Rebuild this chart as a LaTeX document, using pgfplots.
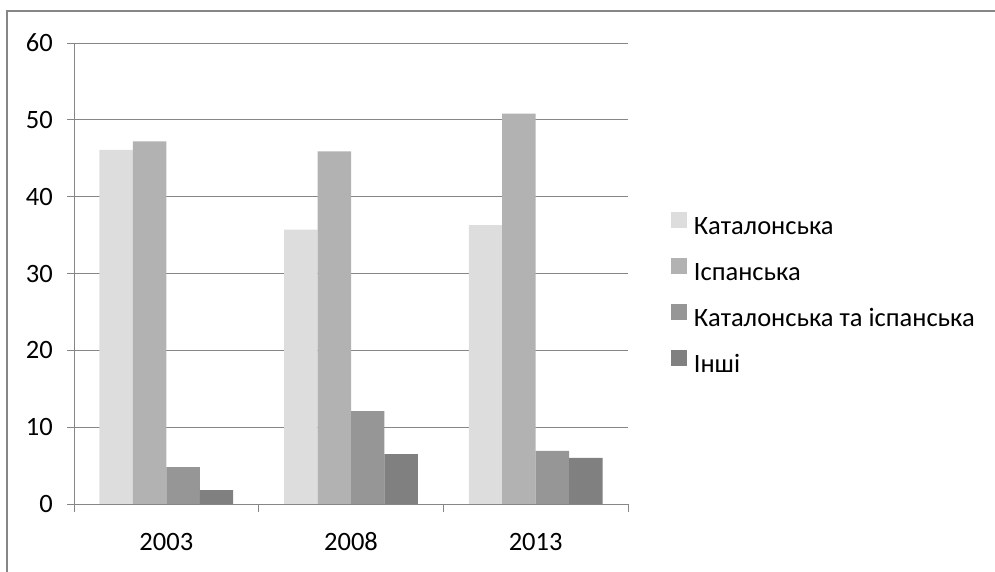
\documentclass[border=0pt]{standalone}
\usepackage{pgfplots}
\pgfplotsset{compat=1.18}
\usepackage{fontspec}
\setmainfont{Carlito}
\definecolor{gridgray}{HTML}{868686}
\definecolor{catal}{HTML}{DDDDDD}
\definecolor{span}{HTML}{B2B2B2}
\definecolor{both}{HTML}{969696}
\definecolor{other}{HTML}{808080}
\begin{document}
\begin{tikzpicture}
\useasboundingbox (0,0) rectangle (995pt,572pt);
% outer chart frame (only left and top edges are visible)
\draw[gridgray, line width=1.2pt] (7pt,-5pt) -- (7pt,561pt) -- (1000pt,561pt);
\begin{axis}[
  at={(74pt,68pt)}, anchor=south west,
  scale only axis, width=554pt, height=461pt,
  ybar=0pt, bar width=0.181,
  xmin=-0.5, xmax=2.5, ymin=0, ymax=60,
  ytick={0,10,...,60},
  xtick={0,1,2}, xticklabels={2003,2008,2013},
  minor xtick={-0.5,0.5,1.5,2.5},
  major x tick style={draw=none},
  minor x tick style={draw=gridgray, line width=0.8pt},
  minor tick length=8pt,
  major tick length=7pt,
  tick align=outside,
  ytick style={draw=gridgray, line width=0.8pt},
  ymajorgrids, grid style={gridgray, line width=0.8pt},
  axis x line*=bottom, axis y line*=left,
  axis line style={gridgray, line width=0.8pt},
  /pgf/number format/assume math mode=true,
  ticklabel style={font=\fontsize{26.5}{30}\selectfont},
  yticklabel style={inner sep=0pt, xshift=-14pt},
  xticklabel style={inner sep=0pt, text height=17pt, text depth=0pt, anchor=north, yshift=-22pt},
  legend style={at={(1.077,0.4544)}, anchor=west, draw=none, fill=none,
    font=\fontsize{26.5}{30}\selectfont, inner sep=0pt,
    nodes={inner sep=0pt, text height=19pt, text depth=5pt},
    /tikz/row sep=18pt, /tikz/column sep=7pt},
  legend cell align=left,
  legend image code/.code={\fill[#1] (0pt,0pt) rectangle (16pt,16pt);},
]
\addplot[fill=catal, draw=none] coordinates {(0,46.1) (1,35.7) (2,36.3)};
\addlegendentry{Каталонська}
\addplot[fill=span, draw=none] coordinates {(0,47.2) (1,45.9) (2,50.8)};
\addlegendentry{Іспанська}
\addplot[fill=both, draw=none] coordinates {(0,4.8) (1,12.1) (2,6.9)};
\addlegendentry{Каталонська та іспанська}
\addplot[fill=other, draw=none] coordinates {(0,1.8) (1,6.5) (2,6.0)};
\addlegendentry{Інші}
\end{axis}
\end{tikzpicture}
\end{document}
